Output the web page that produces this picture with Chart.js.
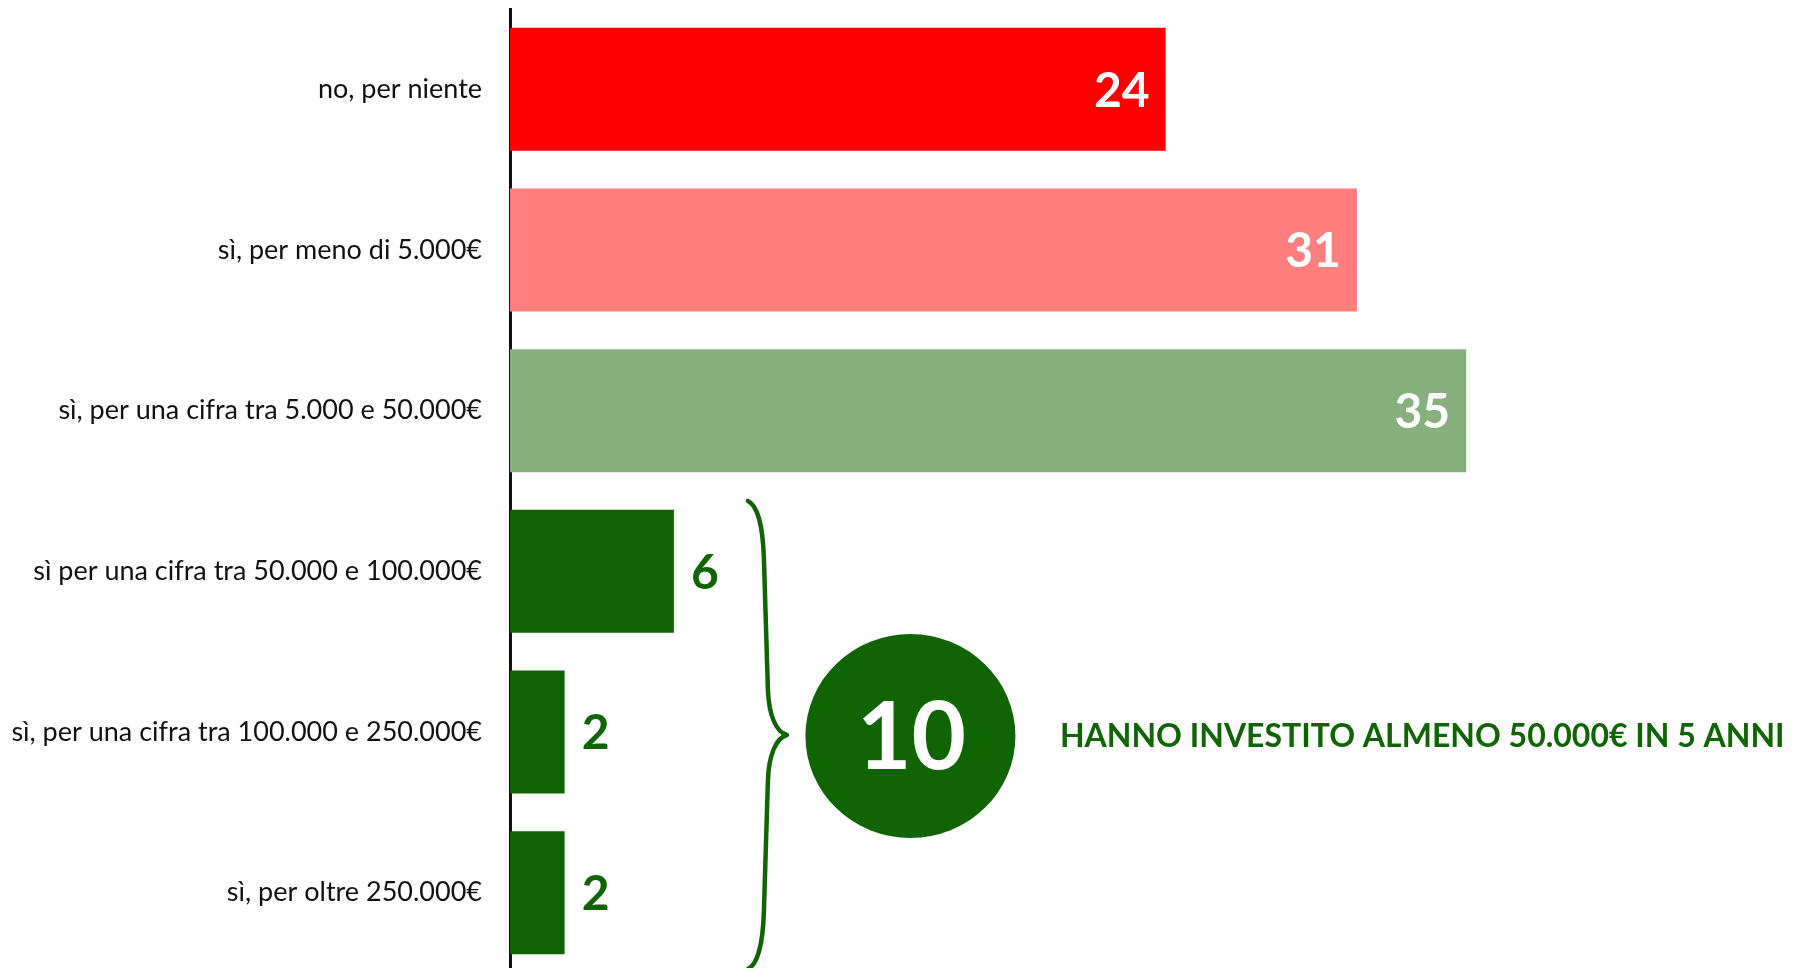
<!DOCTYPE html>
<html>
<head>
<meta charset="utf-8">
<script src="https://cdn.jsdelivr.net/npm/chart.js@4"></script>
<style>
  html, body { margin: 0; padding: 0; background: #fff; overflow: hidden; }
  #wrap { position: relative; width: 1794px; height: 980px; }
</style>
</head>
<body>
<div id="wrap"><canvas id="investChart"></canvas></div>
<script>
var categories = [
    'no, per niente',
    'sì, per meno di 5.000€',
    'sì, per una cifra tra 5.000 e 50.000€',
    'sì per una cifra tra 50.000 e 100.000€',
    'sì, per una cifra tra 100.000 e 250.000€',
    'sì, per oltre 250.000€'
];
var values = [24, 31, 35, 6, 2, 2];
// rows grouped by the brace, their sum goes in the circle
var highlightGroup = [3, 4, 5];
var highlightText = 'HANNO INVESTITO ALMENO 50.000€ IN 5 ANNI';

var barColors = ['#ff0000', '#ff7f7f', '#87b07f', '#106404', '#106404', '#106404'];
var darkGreen = '#106404';
var fontFamily = 'Lato, "Open Sans", sans-serif';

// numbers at the end of each bar
var valueLabels = {
    id: 'valueLabels',
    afterDatasetsDraw: function (chart) {
        var ctx = chart.ctx;
        var meta = chart.getDatasetMeta(0);
        ctx.save();
        ctx.font = 'bold 48px ' + fontFamily;
        ctx.textBaseline = 'middle';
        meta.data.forEach(function (bar, i) {
            var txt = String(values[i]);
            if (bar.x - bar.base > 300) {
                ctx.fillStyle = '#ffffff';
                ctx.textAlign = 'right';
                ctx.fillText(txt, bar.x - 16, bar.y + 2);
            } else {
                ctx.fillStyle = darkGreen;
                ctx.textAlign = 'left';
                ctx.fillText(txt, bar.x + 17, bar.y + 2);
            }
        });
        ctx.restore();
    }
};

// brace + circle with total + caption
var groupNote = {
    id: 'groupNote',
    afterDraw: function (chart) {
        var ctx = chart.ctx;
        var xs = chart.scales.x, ys = chart.scales.y;
        var half = (ys.getPixelForValue(1) - ys.getPixelForValue(0)) / 2;
        var top = ys.getPixelForValue(highlightGroup[0]) - half + 10;
        var bottom = ys.getPixelForValue(highlightGroup[highlightGroup.length - 1]) + half - 4;
        var mid = (top + bottom) / 2;
        var groupVals = highlightGroup.map(function (i) { return values[i]; });
        var total = groupVals.reduce(function (a, b) { return a + b; }, 0);
        var bx = xs.getPixelForValue(Math.max.apply(null, groupVals));

        var left = bx + 74, arm1 = bx + 90, arm2 = bx + 94, tip = bx + 113;
        ctx.save();
        ctx.strokeStyle = darkGreen;
        ctx.lineWidth = 4.5;
        ctx.lineCap = 'round';
        ctx.lineJoin = 'round';
        ctx.beginPath();
        ctx.moveTo(left, top);
        ctx.bezierCurveTo(left + 9, top + 4, left + 15, top + 23, arm1, top + 58);
        ctx.lineTo(arm2, mid - 45);
        ctx.bezierCurveTo(arm2 + 1, mid - 20, arm2 + 8, mid - 3, tip, mid);
        ctx.bezierCurveTo(arm2 + 8, mid + 3, arm2 + 1, mid + 20, arm2, mid + 45);
        ctx.lineTo(arm1, bottom - 58);
        ctx.bezierCurveTo(left + 15, bottom - 23, left + 9, bottom - 4, left, bottom);
        ctx.stroke();

        var cx = bx + 236.5, cy = mid + 1;
        ctx.fillStyle = darkGreen;
        ctx.beginPath();
        ctx.ellipse(cx, cy, 105, 102, 0, 0, Math.PI * 2);
        ctx.fill();

        ctx.fillStyle = '#ffffff';
        ctx.textAlign = 'center';
        ctx.textBaseline = 'middle';
        ctx.font = 'bold 94px ' + fontFamily;
        ctx.fillText(String(total), cx + 1, cy + 3);

        ctx.fillStyle = darkGreen;
        ctx.textAlign = 'left';
        ctx.font = 'bold 32px ' + fontFamily;
        ctx.fillText(highlightText, bx + 386, cy + 1);
        ctx.restore();
    }
};

var ctx = document.getElementById('investChart').getContext('2d');
var investChart = new Chart(ctx, {
    type: 'bar',
    data: {
        labels: categories,
        datasets: [{
            data: values,
            backgroundColor: barColors,
            borderWidth: 0,
            barPercentage: 0.766,
            categoryPercentage: 1
        }]
    },
    options: {
        indexAxis: 'y',
        responsive: true,
        maintainAspectRatio: false,
        animation: false,
        layout: { padding: { top: 9, bottom: 7, left: 0, right: 0 } },
        plugins: {
            legend: { display: false },
            tooltip: { enabled: false }
        },
        scales: {
            x: { display: false, min: 0, max: 47 },
            y: {
                z: 1,
                grid: { display: false, drawTicks: false },
                border: { display: true, color: '#111111', width: 3 },
                ticks: {
                    color: '#111111',
                    padding: 28,
                    font: { family: fontFamily, size: 27 }
                },
                afterFit: function (scale) {
                    scale.width = 510;
                    scale.paddingTop = 0;
                    scale.paddingBottom = 0;
                }
            }
        }
    },
    plugins: [valueLabels, groupNote]
});
</script>
</body>
</html>
